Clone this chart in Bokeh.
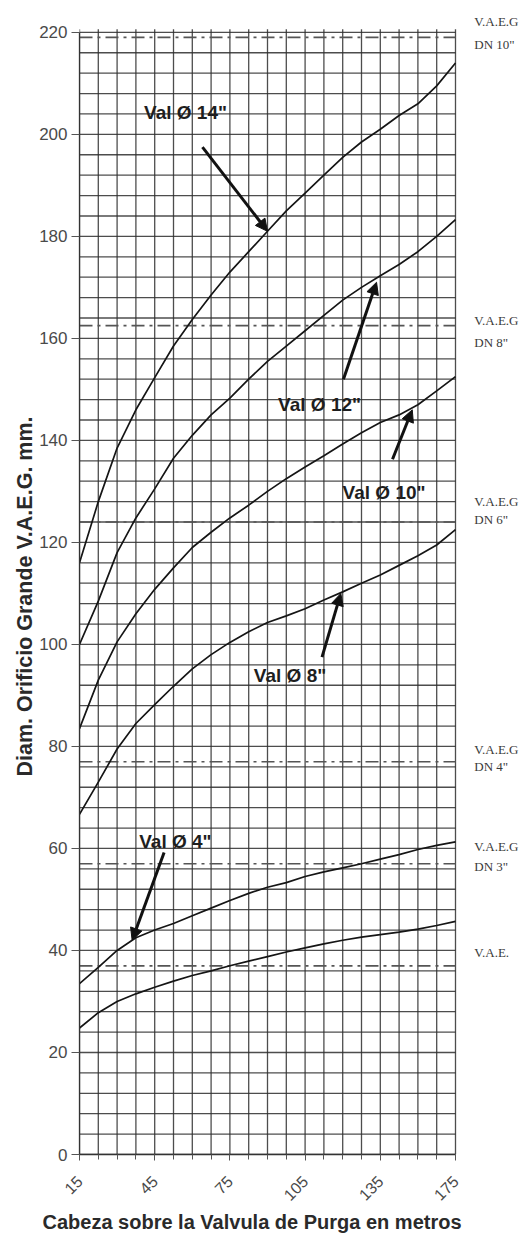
import math
from bokeh.plotting import figure
from bokeh.models import Range1d, FixedTicker, Arrow, NormalHead, ColumnDataSource, Title
from bokeh.core.properties import value
from bokeh.embed import file_html
from bokeh.resources import INLINE

# ---- data -------------------------------------------------------------
# x positions are the 21 vertical grid positions of the chart (category index)
x_idx = list(range(21))
x_tick_pos = [0, 4, 8, 12, 16, 20]
x_tick_labels = ["15", "45", "75", "105", "135", "175"]
y_ticks = [0, 20, 40, 60, 80, 100, 120, 140, 160, 180, 200, 220]
y_grid = list(range(0, 221, 4))

val_14 = [116, 128, 138.5, 146, 152.3, 158.5, 163.7, 168.5, 173, 177, 181,
          185, 188.5, 192, 195.5, 198.5, 201, 203.7, 206, 209.5, 214]
val_12 = [100, 108.5, 118, 124.8, 130.5, 136.5, 141, 145, 148.3, 152, 155.5,
          158.5, 161.5, 164.5, 167.5, 170, 172.3, 174.5, 177, 180, 183.3]
val_10 = [83.5, 93, 100.5, 106, 110.8, 115, 119, 122, 124.8, 127.3, 130,
          132.5, 134.8, 137, 139.3, 141.5, 143.5, 145, 147, 149.7, 152.5]
val_8 = [66.7, 73, 79.5, 84.5, 88.2, 91.8, 95.2, 98, 100.4, 102.5, 104.3,
         105.6, 107, 108.7, 110.3, 112, 113.6, 115.5, 117.4, 119.5, 122.5]
val_4 = [33.5, 36.7, 40, 42.5, 44, 45.3, 46.8, 48.3, 49.8, 51.2, 52.4,
         53.3, 54.5, 55.4, 56.2, 57, 57.9, 58.8, 59.8, 60.6, 61.3]
val_vae = [24.8, 27.8, 30, 31.5, 32.8, 34, 35.1, 36, 37, 37.9, 38.8,
           39.7, 40.5, 41.3, 42, 42.6, 43.1, 43.6, 44.2, 44.9, 45.7]

# reference (dash-dot) levels and their side labels
ref_levels = [219, 162.5, 124, 77, 57, 37]
side_text = ["V.A.E.G", "DN 10\"", "V.A.E.G", "DN 8\"", "V.A.E.G", "DN 6\"",
             "V.A.E.G", "DN 4\"", "V.A.E.G", "DN 3\"", "V.A.E."]
side_y = [222.2, 217.6, 163.5, 159.2, 128, 124.5, 79.4, 76.1, 60.4, 56.5, 39.6]

# curve call-outs
call_text = ["Val Ø 14\"", "Val Ø 12\"", "Val Ø 10\"", "Val Ø 8\"", "Val Ø 4\""]
call_tx = [5.64, 12.77, 16.2, 11.2, 5.1]
call_ty = [204.3, 147, 129.8, 94.0, 61.4]
arrow_x0 = [6.54, 14.04, 16.65, 12.9, 4.5]
arrow_y0 = [197.5, 152, 136.3, 97.5, 59.2]
arrow_x1 = [10.0, 15.8, 17.7, 13.9, 2.8]
arrow_y1 = [181, 171, 146, 110, 42]

x_title = "Cabeza sobre la Valvula de Purga en metros"
y_title = "Diam. Orificio Grande V.A.E.G. mm."

X_MAX = 20
Y_MAX = 220

# ---- figure -----------------------------------------------------------
p = figure(width=527, height=1234, output_backend="svg", toolbar_location=None,
           x_range=Range1d(0, 23.83), y_range=Range1d(0, 223.5),
           min_border_left=79, min_border_right=0, min_border_top=14,
           min_border_bottom=80, background_fill_color="white",
           border_fill_color="white")
p.outline_line_color = None
p.xgrid.visible = False
p.ygrid.visible = False

# graph-paper grid (limited to the data area)
p.segment(x0=x_idx, x1=x_idx, y0=[0] * len(x_idx), y1=[Y_MAX + 0.6] * len(x_idx),
          line_color="#2e2e2e", line_alpha=0.85, line_width=1.3)
p.segment(x0=[0] * len(y_grid), x1=[X_MAX] * len(y_grid), y0=y_grid, y1=y_grid,
          line_color="#2e2e2e", line_alpha=0.85, line_width=1.3)

# axes
p.xaxis.ticker = FixedTicker(ticks=x_tick_pos, minor_ticks=x_idx)
p.xaxis.major_label_overrides = {pos: lab for pos, lab in zip(x_tick_pos, x_tick_labels)}
p.xaxis.major_label_orientation = math.pi / 4
p.xaxis.bounds = (0, X_MAX)
p.yaxis.ticker = FixedTicker(ticks=y_ticks)
p.yaxis.bounds = (0, Y_MAX)
for ax in (p.xaxis[0], p.yaxis[0]):
    ax.axis_line_color = "#333333"
    ax.axis_line_width = 1.3
    ax.major_tick_line_color = "#555555"
    ax.major_tick_in = 0
    ax.minor_tick_line_color = "#555555"
    ax.minor_tick_out = 5
    ax.minor_tick_in = 0
    ax.major_label_text_font = "Liberation Sans"
    ax.major_label_text_color = "#4a4a4a"
p.yaxis.major_tick_out = 8
p.xaxis.major_tick_out = 6
p.yaxis.minor_tick_line_color = None
p.yaxis.major_label_text_font_size = "17px"
p.xaxis.major_label_text_font_size = "16px"
p.yaxis.major_label_standoff = 4
p.xaxis.major_label_standoff = 18

# axis titles (as Titles so that they can be offset like in the original)
p.add_layout(Title(text=x_title, align="left", offset=-37, text_font="Liberation Sans",
                   text_font_style="bold", text_font_size="20px",
                   text_color="#2a2a2a", standoff=0), "below")
p.add_layout(Title(text=y_title, align="left", offset=378, text_font="Liberation Sans",
                   text_font_style="bold", text_font_size="21.5px",
                   text_color="#2a2a2a", standoff=0), "left")

# reference dash-dot lines
p.segment(x0=[0] * len(ref_levels), x1=[X_MAX] * len(ref_levels),
          y0=ref_levels, y1=ref_levels, line_color="#555555",
          line_width=1.7, line_dash="13 5 3 5")

# curves
for vals in (val_14, val_12, val_10, val_8, val_4, val_vae):
    p.line(x_idx, vals, line_color="#151515", line_width=1.7)

# side labels (right of the grid)
p.text(x=[21.0] * len(side_text), y=side_y, text=side_text,
       text_font=value("Liberation Serif"), text_font_size="13px",
       text_color="#3a3a3a", text_align="left", text_baseline="middle")

# arrows
for x0, y0, x1, y1 in zip(arrow_x0, arrow_y0, arrow_x1, arrow_y1):
    p.add_layout(Arrow(end=NormalHead(size=12, fill_color="#111111", line_color="#111111"),
                       x_start=x0, y_start=y0, x_end=x1, y_end=y1,
                       line_color="#111111", line_width=3))

# call-out texts
src = ColumnDataSource(dict(x=call_tx, y=call_ty, t=call_text))
p.text(x="x", y="y", text="t", source=src, text_font=value("Liberation Sans"),
       text_font_style="bold", text_font_size="19px", text_color="#1e1e1e",
       text_align="center", text_baseline="middle")

open("out.html", "w").write(file_html(p, INLINE))
